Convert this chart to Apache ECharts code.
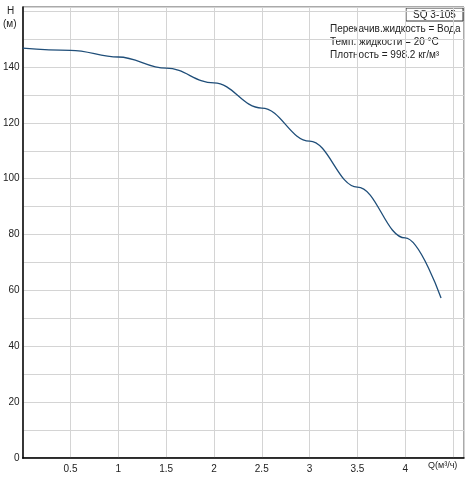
<!DOCTYPE html><html><head><meta charset="utf-8"><script src="https://cdn.jsdelivr.net/npm/echarts@6/dist/echarts.min.js"></script></head><body style="margin:0"><div id="c" style="width:475px;height:479px"></div><script>
const qValues=[0,0.5,1,1.5,2,2.5,3,3.5,4,4.375];
const hValues=[146.8,146,143.6,139.6,134.3,125.3,113.5,97,78.8,57.3];
const xTicks=[0.5,1,1.5,2,2.5,3,3.5,4];
const yTicks=[0,20,40,60,80,100,120,140];
const ch=echarts.init(document.getElementById('c'));
const F='Arial, Liberation Sans, sans-serif';
ch.setOption({animation:false,
grid:{left:21,right:11,top:7,bottom:21,show:true,borderColor:'#555',borderWidth:1},
xAxis:{type:'value',min:0,max:4.615,interval:0.5,axisLine:{show:true,onZero:false,lineStyle:{color:'#000',width:1.5}},axisTick:{show:false},
 splitLine:{lineStyle:{color:'#d4d4d4'}},axisLabel:{color:'#222',fontSize:10,fontFamily:F,margin:6,showMaxLabel:false,formatter:v=>xTicks.includes(v)?String(v):''}},
yAxis:{type:'value',min:0,max:161.5,interval:10,axisLine:{show:true,lineStyle:{color:'#000',width:1.5}},axisTick:{show:false},
 splitLine:{lineStyle:{color:'#d4d4d4'}},axisLabel:{color:'#222',fontSize:10,fontFamily:F,margin:3,showMaxLabel:false,formatter:v=>yTicks.includes(v)?String(v):''}},
series:[{type:'line',data:qValues.map((q,i)=>[q,hValues[i]]),smooth:0.4,smoothMonotone:'x',symbol:'none',lineStyle:{color:'#1f4e79',width:1.3}}],
graphic:[
{type:'text',left:7,top:6,style:{text:'H',fontSize:10,fontFamily:F,fill:'#222'}},
{type:'text',left:3,top:19,style:{text:'(м)',fontSize:10,fontFamily:F,fill:'#222'}},
{type:'rect',shape:{x:406,y:8,width:57,height:13},style:{fill:'#fff',stroke:'#333',lineWidth:1}},
{type:'text',x:434.5,y:15,style:{text:'SQ 3-105',fontSize:10,fontFamily:F,fill:'#222',align:'center',verticalAlign:'middle'}},
{type:'text',x:328,y:23,style:{text:'Перекачив.жидкость = Вода\nТемп. жидкости = 20 °C\nПлотность = 998.2 кг/м³',fontSize:10,lineHeight:13,fontFamily:F,fill:'#222',backgroundColor:'#fff',padding:[0,2]}},
{type:'text',x:428,y:461,style:{text:'Q(м³/ч)',fontSize:9,fontFamily:F,fill:'#222',backgroundColor:'#fff'}}
]});
</script></body></html>
